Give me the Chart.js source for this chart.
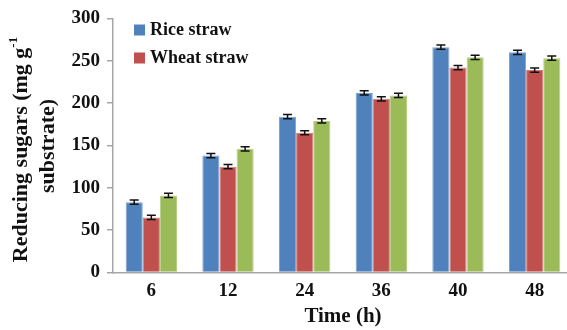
<!DOCTYPE html>
<html>
<head>
<meta charset="utf-8">
<script src="https://cdn.jsdelivr.net/npm/chart.js@4"></script>
<style>
  html, body { margin: 0; padding: 0; background: #fff; overflow: hidden; }
  .caja { position: relative; width: 576px; height: 330px; }
</style>
</head>
<body>
<div class="caja"><canvas id="grafica"></canvas></div>
<script>
const tiempos = ["6", "12", "24", "36", "40", "48"];
const ticksY = [0, 50, 100, 150, 200, 250, 300];
const arroz = [83, 138, 184, 212, 266, 260];
const trigo = [65, 125, 165, 205, 242, 239];
const tercera = [91, 146, 179, 209, 254, 253];
const errArroz = [2.5, 2.5, 2.5, 2.5, 2.5, 2.5];
const errTrigo = [2.5, 2.5, 2.5, 2.5, 2.5, 2.5];
const errTercera = [2.5, 2.5, 2.5, 2.5, 2.5, 2.5];
const nombres = ["Rice straw", "Wheat straw", ""];

const serif = "'Liberation Serif', 'Times New Roman', serif";

// barras de error dibujadas con la escala y
const barrasError = {
    id: "barrasError",
    afterDatasetsDraw(chart) {
        const ctx = chart.ctx;
        const ejeY = chart.scales.y;
        chart.data.datasets.forEach((ds, i) => {
            const meta = chart.getDatasetMeta(i);
            meta.data.forEach((barra, j) => {
                const v = ds.data[j];
                const e = ds.errores[j];
                const arriba = ejeY.getPixelForValue(v + e);
                const abajo = ejeY.getPixelForValue(v - e);
                ctx.save();
                ctx.strokeStyle = "#111";
                ctx.lineWidth = 1.5;
                ctx.beginPath();
                ctx.moveTo(barra.x, arriba);
                ctx.lineTo(barra.x, abajo);
                ctx.moveTo(barra.x - 4.5, arriba);
                ctx.lineTo(barra.x + 4.5, arriba);
                ctx.moveTo(barra.x - 4.5, abajo);
                ctx.lineTo(barra.x + 4.5, abajo);
                ctx.stroke();
                ctx.restore();
            });
        });
    }
};

// leyenda dentro del area y titulo del eje y con superindice
const extras = {
    id: "extras",
    afterDraw(chart) {
        const ctx = chart.ctx;
        ctx.save();
        ctx.font = "bold 18px " + serif;
        ctx.textBaseline = "middle";
        ctx.textAlign = "left";
        [0, 1].forEach(i => {
            const ds = chart.data.datasets[i];
            const y = 30 + i * 28;
            ctx.fillStyle = ds.backgroundColor;
            ctx.fillRect(134, y - 5.5, 11, 11);
            ctx.fillStyle = "#111";
            ctx.fillText(ds.label, 150, y);
        });

        ctx.translate(0, 0);
        ctx.rotate(-Math.PI / 2);
        const principal = "Reducing sugars (mg g";
        const sup = "-1";
        ctx.font = "bold 22px " + serif;
        const w1 = ctx.measureText(principal).width;
        ctx.font = "bold 13px " + serif;
        const w2 = ctx.measureText(sup).width;
        const inicio = -149.5 - (w1 + w2) / 2;
        ctx.textBaseline = "alphabetic";
        ctx.fillStyle = "#111";
        ctx.font = "bold 22px " + serif;
        ctx.fillText(principal, inicio, 27);
        ctx.font = "bold 13px " + serif;
        ctx.fillText(sup, inicio + w1, 17);
        ctx.font = "bold 22px " + serif;
        ctx.textAlign = "center";
        ctx.fillText("substrate)", -146, 54);
        ctx.restore();
    }
};

new Chart(document.getElementById("grafica"), {
    type: "bar",
    data: {
        labels: tiempos,
        datasets: [
            { label: nombres[0], data: arroz, errores: errArroz, backgroundColor: "#4F81BD", borderColor: "#7EA2D0", borderWidth: 1 },
            { label: nombres[1], data: trigo, errores: errTrigo, backgroundColor: "#C0504D", borderColor: "#D27E7C", borderWidth: 1 },
            { label: nombres[2], data: tercera, errores: errTercera, backgroundColor: "#9BBB59", borderColor: "#B7CF86", borderWidth: 1 }
        ]
    },
    options: {
        responsive: true,
        maintainAspectRatio: false,
        animation: false,
        layout: { padding: { left: 0, top: 17, right: 3, bottom: 0 } },
        plugins: { legend: { display: false }, tooltip: { enabled: false } },
        datasets: { bar: { categoryPercentage: 0.67, barPercentage: 1.0 } },
        scales: {
            x: {
                grid: { display: true, drawOnChartArea: false, drawTicks: false },
                border: { display: true, color: "#A6A6A6", width: 1.5 },
                ticks: { color: "#111", font: { family: serif, size: 19, weight: "bold" }, padding: 7 },
                title: { display: true, text: "Time (h)", color: "#111", font: { family: serif, size: 21, weight: "bold" }, padding: { top: 0, bottom: 1 } },
                afterFit(scale) { scale.height = 57.5; }
            },
            y: {
                min: 0,
                max: 300,
                afterBuildTicks(scale) { scale.ticks = ticksY.map(v => ({ value: v })); },
                grid: { display: true, drawOnChartArea: false, drawTicks: true, tickLength: 6, color: "#A6A6A6", lineWidth: 1.5 },
                border: { display: true, color: "#A6A6A6", width: 1.5 },
                ticks: { color: "#111", font: { family: serif, size: 19, weight: "bold" }, padding: 7 },
                afterFit(scale) { scale.width = 113; }
            }
        }
    },
    plugins: [barrasError, extras]
});
</script>
</body>
</html>
